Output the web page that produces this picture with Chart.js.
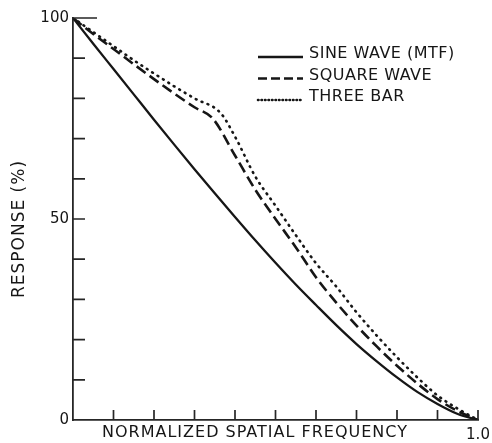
<!DOCTYPE html>
<html>
<head>
<meta charset="utf-8">
<script src="https://cdn.jsdelivr.net/npm/chart.js@4/dist/chart.umd.min.js"></script>
<style>
  html, body { margin: 0; padding: 0; background: #fff; }
  #wrap { width: 492px; height: 443px; }
</style>
</head>
<body>
<div id="wrap"><canvas id="responseChart" width="492" height="443"></canvas></div>
<script>
// Response curves vs normalized spatial frequency
const sineFreq = [0, 0.05, 0.1, 0.15, 0.2, 0.25, 0.3, 0.35, 0.4, 0.45, 0.5, 0.55, 0.6, 0.65, 0.7, 0.75, 0.8, 0.85, 0.9, 0.95, 1.0];
const sineWave = [100, 93.6, 87.3, 81.0, 74.7, 68.5, 62.4, 56.4, 50.5, 44.7, 39.1, 33.7, 28.6, 23.6, 18.9, 14.6, 10.6, 7.0, 4.0, 1.5, 0];

const squareFreq = [0, 0.05, 0.1, 0.15, 0.2, 0.25, 0.3, 0.345, 0.4, 0.45, 0.5, 0.55, 0.6, 0.65, 0.7, 0.75, 0.8, 0.85, 0.9, 0.95, 1.0];
const squareWave = [100, 96.0, 92.3, 88.5, 84.8, 81.2, 77.8, 75.0, 65.8, 57.3, 50.0, 43.0, 35.5, 29.2, 23.5, 18.3, 13.5, 9.1, 5.2, 2.2, 0];

const threeBarFreq = [0, 0.05, 0.1, 0.15, 0.2, 0.25, 0.3, 0.365, 0.4, 0.45, 0.5, 0.55, 0.6, 0.65, 0.7, 0.75, 0.8, 0.85, 0.9, 0.95, 1.0];
const threeBar = [100, 96.5, 93.0, 89.5, 86.2, 83.0, 80.0, 76.3, 70.5, 60.6, 53.3, 46.0, 39.0, 33.2, 26.8, 21.0, 15.6, 10.6, 6.1, 2.8, 0];

const seriesLabels = ['SINE WAVE (MTF)', 'SQUARE WAVE', 'THREE BAR'];
const yTickLabels = [0, 50, 100];
const xTickLabels = [1.0];

const ink = '#161616';
const axisInk = '#262626';

Chart.defaults.font.family = 'DejaVu Sans';
Chart.defaults.color = ink;

function toPoints(xs, ys) {
  return xs.map((v, i) => ({ x: v, y: ys[i] }));
}

// inward tick marks, legend and axis titles
const decorations = {
  id: 'decorations',
  afterDraw(chart) {
    const { ctx, chartArea, scales } = chart;
    const x = scales.x, y = scales.y;

    ctx.save();
    ctx.strokeStyle = axisInk;
    ctx.lineWidth = 1.7;
    ctx.setLineDash([]);
    ctx.beginPath();
    y.ticks.forEach(t => {
      if (t.value === 0) return;
      const py = y.getPixelForValue(t.value);
      const len = t.value === 100 ? 24 : 12;
      ctx.moveTo(chartArea.left, py);
      ctx.lineTo(chartArea.left + len, py);
    });
    x.ticks.forEach(t => {
      if (t.value <= 0) return;
      const px = x.getPixelForValue(t.value);
      ctx.moveTo(px, chartArea.bottom);
      ctx.lineTo(px, chartArea.bottom - 10);
    });
    ctx.stroke();

    // legend, top right
    const legendLeft = 258, legendLen = 45, legendTop = 54, rowGap = 21.5;
    ctx.font = '16px DejaVu Sans';
    ctx.letterSpacing = '0.5px';
    ctx.fillStyle = ink;
    ctx.textBaseline = 'middle';
    ctx.textAlign = 'left';
    chart.data.datasets.forEach((ds, i) => {
      const cy = legendTop + i * rowGap;
      ctx.save();
      ctx.strokeStyle = ds.borderColor;
      ctx.lineWidth = ds.borderWidth;
      ctx.lineCap = ds.borderCapStyle || 'butt';
      ctx.setLineDash(ds.legendDash || []);
      ctx.beginPath();
      ctx.moveTo(legendLeft, cy + 3);
      ctx.lineTo(legendLeft + legendLen, cy + 3);
      ctx.stroke();
      ctx.restore();
      ctx.fillText(ds.label, legendLeft + legendLen + 6, cy);
    });

    // axis titles
    ctx.letterSpacing = '1px';
    ctx.textBaseline = 'alphabetic';
    ctx.fillText('NORMALIZED SPATIAL FREQUENCY', 102, 437);

    ctx.save();
    ctx.translate(24, 229);
    ctx.rotate(-Math.PI / 2);
    ctx.textAlign = 'center';
    ctx.font = '17px DejaVu Sans';
    ctx.fillText('RESPONSE (%)', 0, 0);
    ctx.restore();

    ctx.restore();
  }
};

const ctx = document.getElementById('responseChart').getContext('2d');

new Chart(ctx, {
  type: 'line',
  data: {
    datasets: [
      {
        label: seriesLabels[0],
        data: toPoints(sineFreq, sineWave),
        borderColor: ink,
        borderWidth: 2.3,
        legendDash: []
      },
      {
        label: seriesLabels[1],
        data: toPoints(squareFreq, squareWave),
        borderColor: ink,
        borderWidth: 2.6,
        borderDash: [11, 5],
        legendDash: [9, 4]
      },
      {
        label: seriesLabels[2],
        data: toPoints(threeBarFreq, threeBar),
        borderColor: ink,
        borderWidth: 2.6,
        borderDash: [0.8, 5.6],
        borderCapStyle: 'round',
        legendDash: [0.5, 3]
      }
    ]
  },
  options: {
    responsive: false,
    animation: false,
    elements: {
      point: { radius: 0 },
      line: { cubicInterpolationMode: 'monotone' }
    },
    layout: {
      padding: { top: 18, right: 0, left: 0, bottom: 0 }
    },
    plugins: {
      legend: { display: false },
      tooltip: { enabled: false }
    },
    scales: {
      x: {
        type: 'linear',
        min: 0,
        max: 1,
        grid: { display: true, drawOnChartArea: false, drawTicks: false },
        border: { display: true, color: axisInk, width: 1.8 },
        ticks: {
          stepSize: 0.1,
          autoSkip: false,
          maxRotation: 0,
          padding: 6,
          font: { size: 15 },
          callback: value => xTickLabels.some(v => Math.abs(v - value) < 1e-6) ? value.toFixed(1) : ''
        },
        afterFit: scale => {
          scale.height = 23;
          scale.paddingRight = 14;
        }
      },
      y: {
        type: 'linear',
        min: 0,
        max: 100,
        grid: { display: true, drawOnChartArea: false, drawTicks: false },
        border: { display: true, color: axisInk, width: 1.8 },
        ticks: {
          stepSize: 10,
          autoSkip: false,
          padding: 4,
          font: { size: 15 },
          callback: value => yTickLabels.includes(value) ? String(value) : ''
        },
        afterFit: scale => { scale.width = 73; }
      }
    }
  },
  plugins: [decorations]
});
</script>
</body>
</html>
